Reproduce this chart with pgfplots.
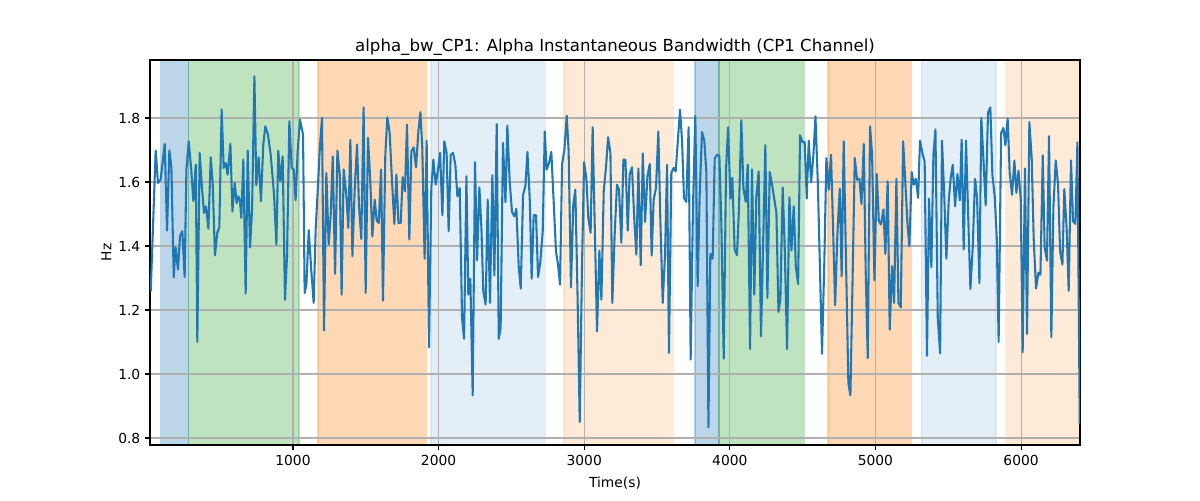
\documentclass[border=0pt]{standalone}
\usepackage{fontspec}
\setmainfont{DejaVu Sans}
\usepackage{pgfplots}
\pgfplotsset{compat=1.18}
\usepackage{pgfplotstable}
\definecolor{tabblue}{HTML}{1F77B4}
\definecolor{taborange}{HTML}{FF7F0E}
\definecolor{tabgreen}{HTML}{2CA02C}
\definecolor{gridgray}{HTML}{B0B0B0}
\pgfplotstableread{
x y
23 1.258
57 1.698
73 1.597
91 1.607
119 1.719
135 1.448
151 1.699
165 1.644
181 1.302
194 1.396
210 1.326
224 1.430
240 1.446
256 1.303
268 1.639
284 1.727
302 1.633
316 1.540
332 1.654
343 1.100
359 1.691
375 1.581
389 1.503
403 1.524
419 1.454
435 1.677
448 1.602
464 1.371
480 1.441
494 1.458
510 1.826
524 1.644
538 1.659
551 1.623
570 1.719
584 1.508
600 1.597
613 1.534
625 1.555
636 1.540
645 1.488
659 1.670
675 1.251
689 1.698
705 1.396
719 1.514
735 1.930
748 1.590
764 1.677
780 1.540
796 1.717
810 1.774
828 1.748
847 1.685
870 1.560
886 1.404
899 1.698
913 1.602
929 1.680
945 1.232
959 1.368
975 1.790
991 1.644
1005 1.639
1018 1.543
1032 1.696
1048 1.795
1069 1.748
1080 1.253
1092 1.279
1108 1.449
1126 1.321
1142 1.222
1156 1.456
1172 1.592
1183 1.696
1199 1.800
1213 1.136
1229 1.628
1245 1.404
1259 1.498
1273 1.680
1289 1.313
1305 1.698
1321 1.623
1334 1.248
1348 1.639
1366 1.560
1380 1.456
1394 1.732
1408 1.368
1424 1.581
1440 1.717
1453 1.529
1469 1.422
1485 1.833
1499 1.253
1515 1.738
1531 1.602
1545 1.430
1561 1.545
1575 1.479
1589 1.472
1605 1.639
1618 1.229
1634 1.685
1648 1.802
1664 1.753
1680 1.602
1696 1.469
1710 1.623
1724 1.472
1740 1.472
1753 1.615
1769 1.571
1783 1.779
1799 1.420
1813 1.696
1829 1.708
1845 1.646
1861 1.758
1875 1.818
1888 1.706
1904 1.360
1918 1.729
1934 1.083
1950 1.581
1964 1.670
1980 1.592
1996 1.639
2010 1.691
2026 1.496
2039 1.727
2055 1.691
2069 1.446
2083 1.685
2099 1.691
2115 1.654
2129 1.555
2145 1.581
2161 1.175
2175 1.110
2191 1.618
2204 1.248
2218 1.298
2234 0.933
2250 1.662
2264 1.355
2280 1.583
2294 1.456
2307 1.258
2323 1.217
2337 1.545
2353 1.222
2369 1.621
2383 1.308
2399 1.781
2413 1.110
2426 1.144
2442 1.722
2459 1.537
2472 1.776
2488 1.602
2504 1.506
2520 1.493
2534 1.516
2550 1.337
2564 1.267
2580 1.560
2596 1.587
2610 1.694
2626 1.545
2639 1.298
2653 1.496
2669 1.496
2683 1.303
2699 1.352
2715 1.446
2729 1.758
2742 1.639
2758 1.659
2774 1.694
2790 1.540
2806 1.383
2820 1.342
2834 1.279
2848 1.656
2864 1.701
2880 1.807
2893 1.696
2909 1.271
2925 1.529
2939 1.576
2955 1.227
2969 0.850
2985 1.342
2999 1.662
3015 1.609
3028 1.488
3044 1.441
3058 1.771
3074 1.425
3088 1.133
3104 1.386
3118 1.232
3134 1.571
3150 1.649
3164 1.740
3180 1.691
3193 1.222
3209 1.436
3225 1.592
3239 1.576
3255 1.410
3269 1.670
3283 1.670
3299 1.448
3312 1.623
3328 1.646
3344 1.482
3358 1.373
3372 1.642
3388 1.340
3402 1.689
3418 1.475
3434 1.618
3450 1.656
3463 1.370
3477 1.545
3493 1.581
3509 1.758
3523 1.477
3539 1.222
3555 1.373
3569 1.654
3582 1.066
3598 1.628
3614 1.644
3628 1.633
3642 1.722
3658 1.826
3672 1.727
3685 1.550
3701 1.538
3717 1.771
3731 1.045
3747 1.524
3763 1.807
3779 1.274
3793 1.560
3809 1.756
3825 1.729
3839 1.628
3853 0.833
3866 1.375
3882 1.360
3896 1.673
3912 1.685
3928 1.682
3942 1.467
3958 1.048
3974 1.639
3988 1.771
4004 1.548
4017 1.613
4033 1.389
4049 1.371
4063 1.519
4079 1.793
4093 1.581
4109 1.538
4123 1.654
4139 1.078
4152 1.639
4168 1.248
4182 1.555
4198 1.633
4214 1.118
4228 1.394
4244 1.715
4258 1.238
4274 1.631
4290 1.592
4304 1.550
4320 1.503
4334 1.194
4347 1.232
4363 1.583
4377 1.394
4393 1.078
4409 1.552
4423 1.386
4439 1.524
4453 1.337
4469 1.281
4482 1.746
4498 1.725
4514 1.725
4528 1.548
4542 1.729
4558 1.599
4574 1.685
4588 1.805
4604 1.602
4620 1.310
4633 1.063
4649 1.352
4663 1.675
4679 1.576
4695 1.685
4709 1.456
4723 1.215
4739 1.441
4755 1.579
4768 1.305
4782 1.727
4798 1.352
4814 0.972
4828 0.933
4844 1.321
4858 1.675
4874 1.607
4890 1.610
4904 1.531
4920 1.719
4933 1.323
4947 1.050
4963 1.774
4977 1.685
4993 1.293
5009 1.625
5023 1.479
5038 1.467
5055 1.514
5068 1.375
5084 1.602
5098 1.139
5114 1.337
5128 1.222
5144 1.610
5158 1.222
5174 1.208
5190 1.727
5203 1.618
5219 1.477
5233 1.399
5249 1.631
5263 1.592
5277 1.610
5293 1.550
5306 1.729
5322 1.691
5338 1.663
5354 1.057
5368 1.548
5384 1.334
5398 1.685
5412 1.764
5428 1.175
5444 1.064
5457 1.729
5473 1.550
5487 1.360
5503 1.540
5517 1.613
5531 1.654
5547 1.524
5563 1.625
5579 1.543
5592 1.732
5606 1.389
5622 1.729
5638 1.477
5652 1.266
5668 1.394
5684 1.610
5698 1.550
5714 1.284
5727 1.800
5743 1.659
5757 1.527
5773 1.816
5789 1.833
5803 1.623
5819 1.555
5833 1.427
5846 1.100
5863 1.753
5879 1.769
5892 1.715
5908 1.798
5922 1.628
5938 1.560
5954 1.667
5968 1.566
5982 1.635
5998 1.545
6011 1.068
6027 1.642
6041 1.125
6057 1.787
6073 1.675
6087 1.420
6103 1.267
6119 1.316
6133 1.310
6149 1.683
6162 1.394
6178 1.354
6192 1.743
6208 1.115
6222 1.519
6238 1.667
6254 1.592
6268 1.383
6284 1.342
6297 1.578
6313 1.456
6327 1.260
6343 1.667
6357 1.477
6373 1.469
6387 1.724
6403 0.844
}\bwdata
\begin{document}
\begin{tikzpicture}
\begin{axis}[
  at={(0,0)}, anchor=south west,
  scale only axis, width=672.1pt, height=278.2pt,
  xmin=18, xmax=6405, ymin=0.778, ymax=1.981,
  set layers=standard,
  xtick={1000,2000,3000,4000,5000,6000},
  ytick={0.8,1.0,1.2,1.4,1.6,1.8},
  /pgf/number format/assume math mode=true,
  xticklabel style={/pgf/number format/1000 sep={}, font=\fontsize{10}{12}\selectfont},
  yticklabel style={/pgf/number format/fixed, /pgf/number format/fixed zerofill, /pgf/number format/precision=1, font=\fontsize{10}{12}\selectfont},
  tick align=outside, major tick length=3.5pt,
  tick style={black, line width=0.8pt},
  xtick pos=bottom, ytick pos=left,
  axis line style={black, line width=0.8pt},
  grid=major, grid style={gridgray, line width=0.8pt},
  title={alpha\_bw\_CP1: Alpha Instantaneous Bandwidth (CP1 Channel)},
  title style={font=\fontsize{12}{14}\selectfont, at={(0.5,1)}, anchor=south, yshift=-6.4pt},
  xlabel={Time(s)}, ylabel={Hz},
  label style={font=\fontsize{10}{12}\selectfont},
  xlabel style={yshift=-1.8pt},
  ylabel style={yshift=-1.8pt},
]
\addplot[on layer=axis background, fill=tabblue, fill opacity=0.3, draw=tabblue, draw opacity=0.3, line width=1pt] coordinates {(92,0.778) (92,1.981) (284,1.981) (284,0.778)};
\addplot[on layer=axis background, fill=tabgreen, fill opacity=0.3, draw=tabgreen, draw opacity=0.3, line width=1pt] coordinates {(284,0.778) (284,1.981) (1041,1.981) (1041,0.778)};
\addplot[on layer=axis background, fill=taborange, fill opacity=0.3, draw=taborange, draw opacity=0.3, line width=1pt] coordinates {(1172,0.778) (1172,1.981) (1915,1.981) (1915,0.778)};
\addplot[on layer=axis background, fill=tabblue, fill opacity=0.12, draw=tabblue, draw opacity=0.12, line width=1pt] coordinates {(1947,0.778) (1947,1.981) (2732,1.981) (2732,0.778)};
\addplot[on layer=axis background, fill=taborange, fill opacity=0.16, draw=taborange, draw opacity=0.16, line width=1pt] coordinates {(2860,0.778) (2860,1.981) (3613,1.981) (3613,0.778)};
\addplot[on layer=axis background, fill=tabblue, fill opacity=0.3, draw=tabblue, draw opacity=0.3, line width=1pt] coordinates {(3761,0.778) (3761,1.981) (3926,1.981) (3926,0.778)};
\addplot[on layer=axis background, fill=tabgreen, fill opacity=0.3, draw=tabgreen, draw opacity=0.3, line width=1pt] coordinates {(3926,0.778) (3926,1.981) (4511,1.981) (4511,0.778)};
\addplot[on layer=axis background, fill=taborange, fill opacity=0.3, draw=taborange, draw opacity=0.3, line width=1pt] coordinates {(4675,0.778) (4675,1.981) (5246,1.981) (5246,0.778)};
\addplot[on layer=axis background, fill=tabblue, fill opacity=0.12, draw=tabblue, draw opacity=0.12, line width=1pt] coordinates {(5315,0.778) (5315,1.981) (5827,1.981) (5827,0.778)};
\addplot[on layer=axis background, fill=taborange, fill opacity=0.16, draw=none] coordinates {(5890,0.778) (5890,1.981) (6405,1.981) (6405,0.778)};
\addplot[tabblue, line width=1.5pt, mark=none, line join=round] table[x=x,y=y] {\bwdata};
\end{axis}
\path (-108.4pt,-39.75pt) rectangle (758.8pt,321.6pt);
\end{tikzpicture}
\end{document}
